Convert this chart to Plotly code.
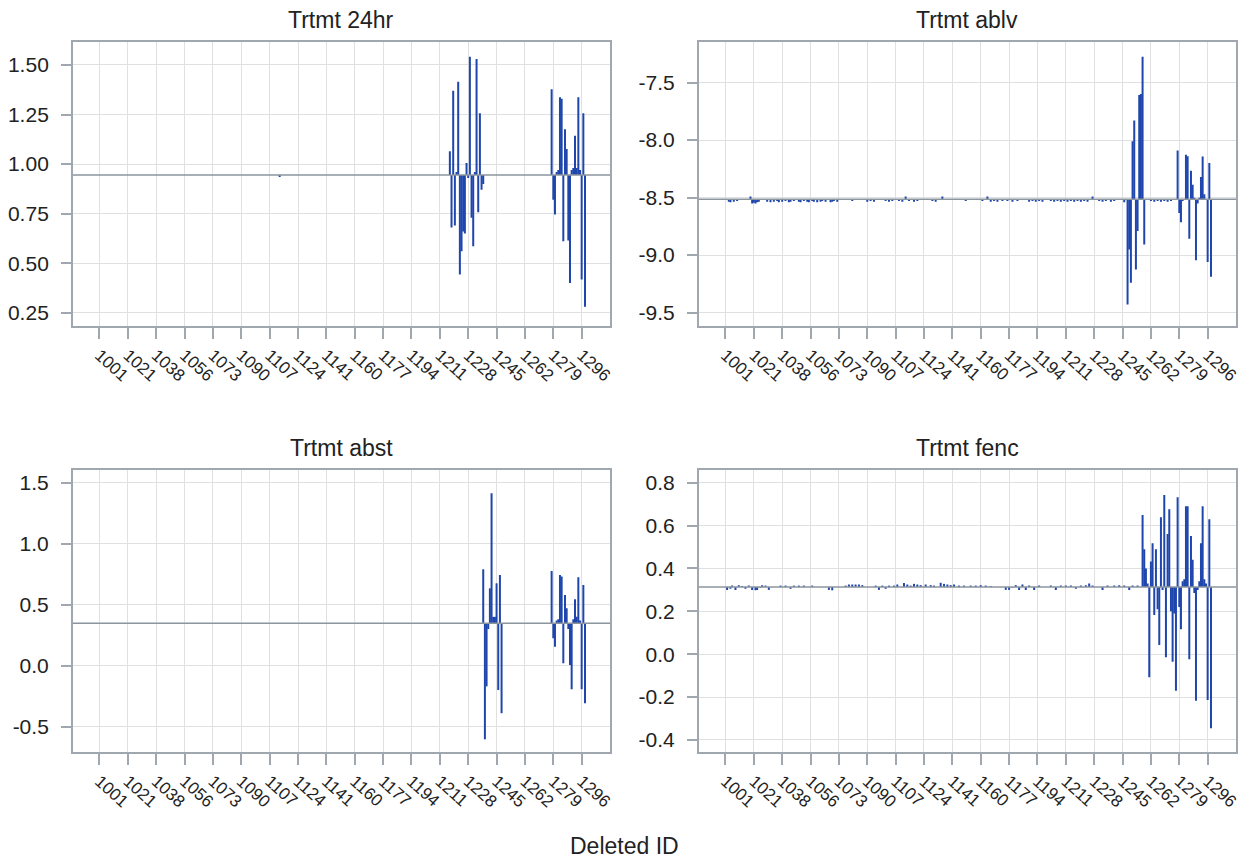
import plotly.graph_objects as go

# ---------------- data ----------------
missing_ids = [1005, 1011, 1017, 1047, 1150, 1155]
deleted_ids = [i for i in range(1001, 1299) if i not in missing_ids]
tick_ids = [1001, 1021, 1038, 1056, 1073, 1090, 1107, 1124, 1141, 1160,
            1177, 1194, 1211, 1228, 1245, 1262, 1279, 1296]

titles = ["Trtmt 24hr", "Trtmt ablv", "Trtmt abst", "Trtmt fenc"]
estimates = [0.945, -8.515, 0.347, 0.313]

y_ticks_24hr = [0.25, 0.50, 0.75, 1.00, 1.25, 1.50]
y_ticks_ablv = [-9.5, -9.0, -8.5, -8.0, -7.5]
y_ticks_abst = [-0.5, 0.0, 0.5, 1.0, 1.5]
y_ticks_fenc = [-0.4, -0.2, 0.0, 0.2, 0.4, 0.6, 0.8]

# deleted-observation estimates (IDs not listed equal the full-data estimate)
est_24hr = {
    1113: 0.935,
    1217: 1.065, 1218: 0.68, 1219: 1.37, 1220: 0.69, 1221: 0.96, 1222: 1.416,
    1223: 0.443, 1224: 0.56, 1225: 0.66, 1226: 0.65, 1227: 1.005, 1228: 0.93,
    1229: 1.542, 1230: 0.729, 1231: 0.586, 1232: 0.96, 1233: 1.53, 1234: 0.757,
    1235: 1.257, 1236: 0.87, 1237: 0.90,
    1278: 1.378, 1279: 0.82, 1280: 0.745, 1281: 0.96, 1282: 0.97, 1283: 1.337,
    1284: 1.33, 1285: 0.61, 1286: 1.176, 1287: 1.076, 1288: 0.615, 1289: 0.40,
    1290: 0.97, 1291: 0.98, 1292: 1.143, 1293: 0.98, 1294: 1.337, 1295: 0.97,
    1296: 0.418, 1297: 1.257, 1298: 0.28,
}

est_ablv = {
    1003: -8.535, 1004: -8.54, 1007: -8.535, 1009: -8.53, 1019: -8.49,
    1020: -8.55, 1021: -8.545, 1022: -8.55, 1023: -8.54, 1024: -8.535,
    1029: -8.535, 1031: -8.54, 1033: -8.535, 1035: -8.53, 1036: -8.54,
    1038: -8.535, 1040: -8.53, 1042: -8.54, 1043: -8.535, 1045: -8.53,
    1049: -8.535, 1050: -8.54, 1052: -8.53, 1054: -8.535, 1055: -8.54,
    1057: -8.53, 1058: -8.535, 1060: -8.54, 1062: -8.535, 1063: -8.53,
    1065: -8.535, 1068: -8.54, 1069: -8.535, 1070: -8.53, 1072: -8.535,
    1081: -8.53, 1090: -8.535, 1092: -8.53, 1094: -8.535, 1101: -8.53,
    1103: -8.535, 1105: -8.53, 1109: -8.53, 1111: -8.535, 1113: -8.49,
    1115: -8.53, 1118: -8.535, 1120: -8.53, 1129: -8.53, 1131: -8.535,
    1135: -8.49, 1149: -8.53, 1161: -8.53, 1164: -8.49, 1166: -8.535,
    1168: -8.53, 1170: -8.535, 1173: -8.53, 1176: -8.53, 1179: -8.535,
    1182: -8.53, 1189: -8.535, 1191: -8.53, 1193: -8.535, 1195: -8.53,
    1197: -8.535, 1202: -8.53, 1204: -8.535, 1206: -8.53, 1208: -8.535,
    1210: -8.53, 1212: -8.535, 1214: -8.53, 1216: -8.535, 1218: -8.53,
    1220: -8.535, 1222: -8.53, 1224: -8.535, 1227: -8.49, 1231: -8.53,
    1233: -8.535, 1235: -8.53, 1238: -8.535, 1240: -8.53, 1246: -8.54,
    1248: -9.43, 1249: -8.95, 1250: -9.24, 1251: -8.01, 1252: -7.83,
    1253: -9.125, 1254: -8.79, 1255: -7.607, 1256: -7.60, 1257: -7.275,
    1258: -8.908,
    1262: -8.53, 1264: -8.535, 1266: -8.53, 1268: -8.535, 1270: -8.53,
    1272: -8.535, 1274: -8.53,
    1278: -8.09, 1279: -8.633, 1280: -8.714, 1281: -8.53, 1282: -8.52,
    1283: -8.127, 1284: -8.14, 1285: -8.858, 1286: -8.266, 1287: -8.387,
    1288: -8.50, 1289: -9.044, 1290: -8.55, 1291: -8.50, 1292: -8.32,
    1293: -8.142, 1294: -8.47, 1295: -8.52, 1296: -9.06, 1297: -8.20,
    1298: -9.188,
}

est_abst = {
    1237: 0.79, 1238: -0.604, 1239: -0.17, 1240: 0.30, 1241: 0.634,
    1242: 1.413, 1243: 0.40, 1244: 0.40, 1245: 0.675, 1246: -0.20,
    1247: 0.743, 1248: -0.39,
    1278: 0.776, 1279: 0.224, 1280: 0.155, 1281: 0.37, 1282: 0.38,
    1283: 0.743, 1284: 0.73, 1285: 0.019, 1286: 0.579, 1287: 0.47,
    1288: 0.30, 1289: 0.005, 1290: -0.194, 1291: 0.38, 1292: 0.544,
    1293: 0.40, 1294: 0.724, 1295: 0.37, 1296: -0.194, 1297: 0.661,
    1298: -0.309,
}

est_fenc = {
    1002: 0.30, 1004: 0.305, 1006: 0.32, 1008: 0.30, 1010: 0.322, 1013: 0.318,
    1015: 0.305, 1018: 0.32, 1020: 0.30, 1022: 0.298, 1023: 0.30, 1025: 0.31,
    1026: 0.322, 1028: 0.32, 1030: 0.30, 1037: 0.32, 1040: 0.32, 1043: 0.305,
    1045: 0.32, 1049: 0.32, 1052: 0.32, 1057: 0.32, 1067: 0.30, 1069: 0.298,
    1077: 0.32, 1079: 0.325, 1081: 0.325, 1083: 0.325, 1085: 0.325,
    1087: 0.322, 1095: 0.32, 1097: 0.30, 1099: 0.32, 1101: 0.305, 1103: 0.32,
    1106: 0.32, 1108: 0.325, 1112: 0.332, 1114: 0.325, 1116: 0.32,
    1118: 0.328, 1120: 0.325, 1122: 0.322, 1125: 0.325, 1128: 0.322,
    1130: 0.32, 1134: 0.333, 1136: 0.328, 1138: 0.325, 1140: 0.322,
    1142: 0.325, 1145: 0.32, 1148: 0.32, 1153: 0.32, 1157: 0.32, 1160: 0.322,
    1163: 0.32, 1166: 0.318, 1175: 0.30, 1177: 0.30, 1179: 0.31, 1181: 0.322,
    1183: 0.30, 1185: 0.325, 1187: 0.30, 1189: 0.32, 1192: 0.30, 1195: 0.32,
    1202: 0.32, 1205: 0.30, 1208: 0.32, 1211: 0.32, 1214: 0.32, 1217: 0.305,
    1220: 0.32, 1223: 0.322, 1225: 0.33, 1227: 0.32, 1233: 0.30, 1236: 0.32,
    1240: 0.32, 1243: 0.322, 1246: 0.32, 1249: 0.30, 1251: 0.32, 1254: 0.32,
    1257: 0.649, 1258: 0.489, 1259: 0.40, 1260: 0.33, 1261: -0.108,
    1262: 0.432, 1263: 0.517, 1264: 0.183, 1265: 0.49, 1266: 0.21,
    1267: 0.043, 1268: 0.639, 1269: 0.30, 1270: 0.743, 1271: -0.014,
    1272: 0.561, 1273: 0.676, 1274: 0.20, 1275: -0.035, 1276: 0.19,
    1277: -0.17, 1278: 0.732, 1279: 0.22, 1280: 0.116, 1281: 0.34,
    1282: 0.35, 1283: 0.69, 1284: 0.69, 1285: -0.024, 1286: 0.551,
    1287: 0.44, 1288: 0.285, 1289: -0.217, 1290: 0.30, 1291: 0.34,
    1292: 0.517, 1293: 0.69, 1294: 0.35, 1295: 0.33, 1296: -0.213,
    1297: 0.629, 1298: -0.345,
}

panel_values = [est_24hr, est_ablv, est_abst, est_fenc]
panel_yticks = [y_ticks_24hr, y_ticks_ablv, y_ticks_abst, y_ticks_fenc]
panel_decimals = [2, 1, 1, 1]

# ---------------- styling ----------------
W, H = 1246, 861
NEEDLE = "#1F46AC"
REFLINE = "#8C959E"
FRAME = "#A0A7AE"
GRID = "#E0E0E0"
TXT = "#222222"
FONT = "Liberation Sans, Arial, sans-serif"

def px_x(a, b):
    return [a / W, b / W]

def px_y(top, bottom):
    return [1 - bottom / H, 1 - top / H]

domains = [
    (px_x(73, 612), px_y(42, 326)),
    (px_x(701, 1240), px_y(42, 326)),
    (px_x(73, 612), px_y(470, 752)),
    (px_x(701, 1240), px_y(470, 752)),
]
y_ranges = [[0.183, 1.616], [-9.616, -7.147], [-0.708, 1.604], [-0.456, 0.859]]

pos = {d: i for i, d in enumerate(deleted_ids)}
tickvals = [pos[t] for t in tick_ids]
ticktext = [str(t) for t in tick_ids]

fig = go.Figure()
layout = dict(
    width=W, height=H, margin=dict(l=0, r=0, t=0, b=0),
    paper_bgcolor="white", plot_bgcolor="white", showlegend=False,
    font=dict(family=FONT, color=TXT, size=15),
)
annotations = []
shapes = []

for k in range(4):
    sfx = "" if k == 0 else str(k + 1)
    base = estimates[k]
    vals = panel_values[k]
    xs, ys = [], []
    for d in deleted_ids:
        v = vals.get(d, base)
        xs += [pos[d], pos[d], None]
        ys += [base, v, None]
    fig.add_trace(go.Scatter(
        x=xs, y=ys, mode="lines", xaxis="x" + sfx, yaxis="y" + sfx,
        line=dict(color=NEEDLE, width=2), hoverinfo="skip",
    ))
    xd, yd = domains[k]
    yt = panel_yticks[k]
    ytext = [f"{v:.{panel_decimals[k]}f}" for v in yt]
    layout["xaxis" + sfx] = dict(
        domain=xd, anchor="y" + sfx, range=[-16, 306],
        tickmode="array", tickvals=tickvals, ticktext=ticktext,
        tickangle=42, tickfont=dict(size=17, color=TXT),
        ticks="outside", ticklen=11, tickcolor=FRAME, tickwidth=1.5,
        showgrid=True, gridcolor=GRID, gridwidth=1,
        showline=True, linecolor=FRAME, linewidth=1.5, mirror=True,
        zeroline=False,
    )
    layout["yaxis" + sfx] = dict(
        domain=yd, anchor="x" + sfx, range=y_ranges[k],
        tickmode="array", tickvals=yt, ticktext=ytext,
        tickfont=dict(size=21, color=TXT),
        ticks="outside", ticklen=10, tickcolor=FRAME, tickwidth=1.5,
        ticklabelstandoff=8,
        showgrid=True, gridcolor=GRID, gridwidth=1,
        showline=True, linecolor=FRAME, linewidth=1.5, mirror=True,
        zeroline=False,
    )
    shapes.append(dict(
        type="line", xref="x" + sfx + " domain", yref="y" + sfx,
        x0=0, x1=1, y0=base, y1=base,
        line=dict(color=REFLINE, width=1.5), layer="above",
    ))
    annotations.append(dict(
        text=titles[k], xref="paper", yref="paper",
        x=(xd[0] + xd[1]) / 2, y=yd[1] + 22 / H,
        xanchor="center", yanchor="middle", showarrow=False,
        font=dict(size=23, color=TXT, family=FONT),
    ))

annotations.append(dict(
    text="Deleted ID", xref="paper", yref="paper",
    x=627 / W, y=1 - 846 / H, xanchor="center", yanchor="middle",
    showarrow=False, font=dict(size=23, color=TXT, family=FONT),
))
layout["annotations"] = annotations
layout["shapes"] = shapes
fig.update_layout(**layout)

fig.write_html("out.html")
